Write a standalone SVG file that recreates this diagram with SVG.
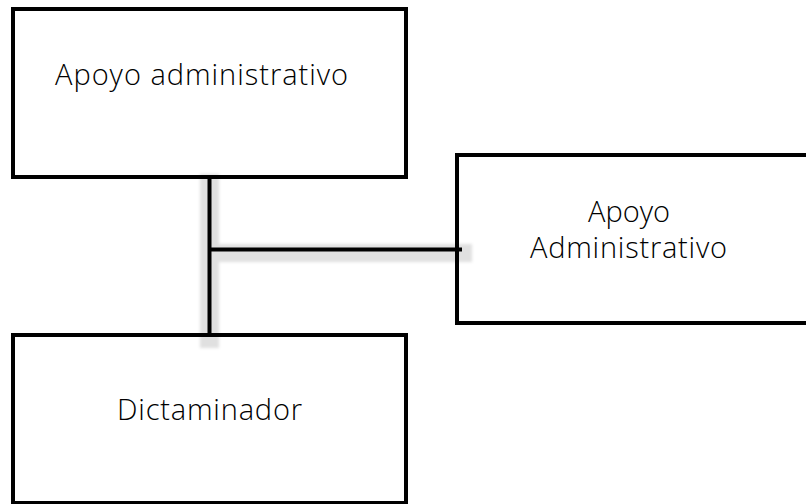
<svg xmlns="http://www.w3.org/2000/svg" width="806" height="504" viewBox="0 0 806 504">
  <defs>
    <filter id="soft" x="-20%" y="-20%" width="140%" height="140%">
      <feGaussianBlur stdDeviation="1.5"/>
    </filter>
  </defs>
  <style>
    .box { fill: #ffffff; stroke: #000000; stroke-width: 4; }
    .label { font-family: "Open Sans", "Liberation Sans", sans-serif; font-weight: 300; font-size: 29px; fill: #000000; }
    .wire { stroke: #000000; stroke-width: 4; fill: none; }
    .shade { fill: #e0e0e0; filter: url(#soft); }
  </style>

  <g id="apoyo-administrativo">
    <rect class="box" x="13" y="9" width="393" height="168"/>
    <text class="label" x="55" y="85" textLength="293">Apoyo administrativo</text>
  </g>

  <g id="apoyo-administrativo-2">
    <rect class="box" x="457" y="155" width="355" height="168"/>
    <text class="label" x="629" y="222" text-anchor="middle">Apoyo</text>
    <text class="label" x="628.5" y="258" text-anchor="middle" textLength="197">Administrativo</text>
  </g>

  <g id="dictaminador">
    <rect class="box" x="13" y="335" width="393" height="168"/>
    <text class="label" x="117" y="420" textLength="185">Dictaminador</text>
  </g>

  <!-- connectors with their soft shading, drawn over the box edges -->
  <g id="connectors">
    <rect class="shade" x="200" y="174" width="19" height="174"/>
    <rect class="shade" x="205" y="244" width="267" height="18"/>
    <line class="wire" x1="209.5" y1="179" x2="209.5" y2="333"/>
    <line class="wire" x1="209.5" y1="249.5" x2="462" y2="249.5"/>
    <!-- box edges restated above the shading -->
    <line class="wire" x1="13" y1="177" x2="406" y2="177"/>
    <line class="wire" x1="13" y1="335" x2="406" y2="335"/>
    <line class="wire" x1="457" y1="153" x2="457" y2="325"/>
  </g>
</svg>
